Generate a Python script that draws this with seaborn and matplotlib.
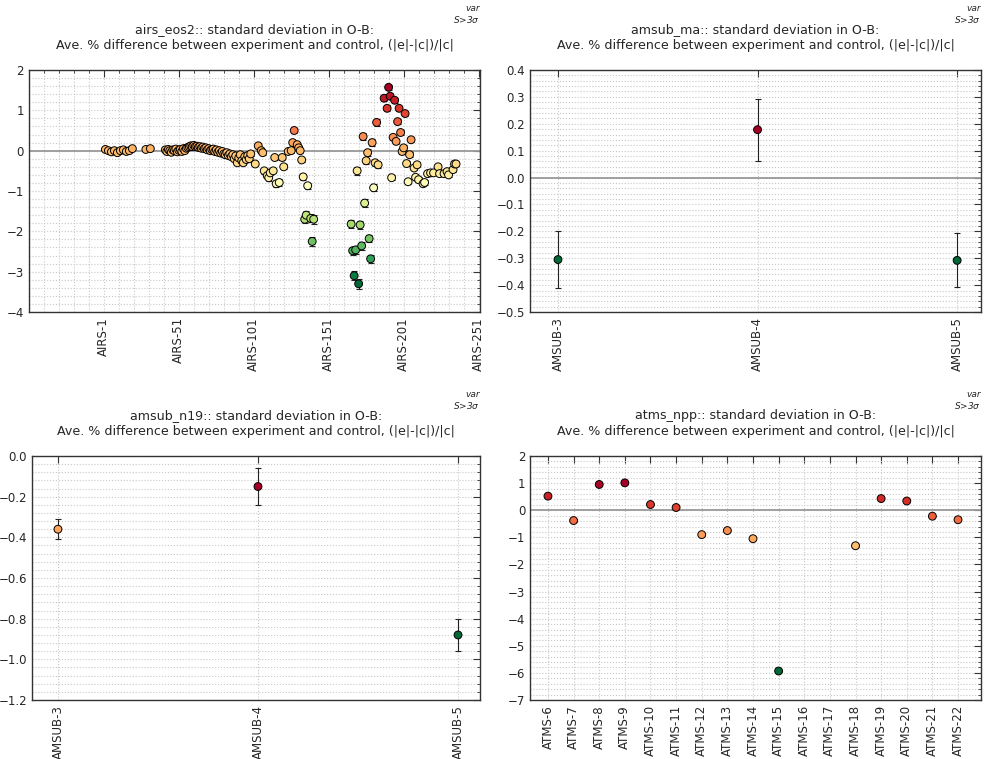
import numpy as np
import pandas as pd
import matplotlib
matplotlib.use('Agg')
import matplotlib.pyplot as plt
import seaborn as sns
from matplotlib.ticker import MultipleLocator

# ---- data ----
# airs_eos2: channel position, value, error bar half-width
airs_chan = [1, 3, 5, 7, 9, 11, 13, 15, 17, 19, 28, 31] + list(range(41, 99)) + [
    101, 103, 105, 106, 107, 109, 110, 111, 113, 114,
    115, 117, 119, 120, 123, 125, 126, 127, 129, 130,
    131, 132, 133, 134, 135, 136, 138, 139, 140,
    165, 166, 167, 168, 169, 170, 171, 172, 173, 174,
    175, 176, 177, 178, 179, 180, 181, 182, 183, 187,
    189, 190, 191, 192, 193, 194, 195, 196, 197, 198,
    199, 200, 201, 202, 203, 204, 205, 207, 208, 209,
    210, 213, 214, 216, 218, 220, 223, 224, 227, 229,
    230, 233, 234, 235]
airs_val = [
    0.03, 0.00, -0.03, 0.00, -0.05, 0.00, 0.02, -0.02, 0.00, 0.05, 0.03, 0.05,
    0.02, -0.02, 0.03, 0.00, -0.04, 0.02, 0.00, 0.04, -0.03, 0.01,
    0.03, -0.02, 0.05, 0.00, 0.06, 0.08, 0.10, 0.12, 0.10, 0.13,
    0.10, 0.11, 0.08, 0.10, 0.06, 0.09, 0.05, 0.07, 0.02, 0.05,
    0.00, 0.03, 0.04, -0.02, 0.02, -0.04, 0.00, -0.06, -0.02, -0.08,
    -0.10, -0.05, -0.12, -0.08, -0.15, -0.10, -0.20, -0.13, -0.30, -0.18,
    -0.10, -0.25, -0.30, -0.15, -0.22, -0.12, -0.20, -0.08,
    -0.33, 0.12, 0.00, -0.05, -0.50, -0.62, -0.67, -0.55, -0.50, -0.17,
    -0.82, -0.79, -0.17, -0.40, -0.02, 0.00, 0.20, 0.50, 0.15, 0.07,
    0.00, -0.23, -0.65, -1.70, -1.60, -0.87, -1.68, -2.25, -1.70,
    -1.82, -2.48, -3.10, -2.46, -0.50, -3.30, -1.84, -2.36, 0.35, -1.30,
    -0.25, -0.05, -2.18, -2.68, 0.20, -0.92, -0.30, 0.70, -0.35, 1.30,
    1.05, 1.57, 1.35, -0.67, 0.33, 1.25, 0.23, 0.72, 1.05, 0.45,
    -0.02, 0.07, 0.92, -0.32, -0.77, -0.10, 0.27, -0.43, -0.66, -0.35,
    -0.72, -0.82, -0.79, -0.57, -0.55, -0.55, -0.40, -0.57, -0.57, -0.52,
    -0.60, -0.47, -0.33, -0.33]
airs_err = [
    0.04, 0.04, 0.04, 0.04, 0.04, 0.04, 0.04, 0.04, 0.04, 0.04, 0.04, 0.04,
    0.04, 0.04, 0.04, 0.04, 0.04, 0.04, 0.04, 0.04, 0.04, 0.04,
    0.04, 0.04, 0.04, 0.04, 0.04, 0.04, 0.04, 0.04, 0.04, 0.04,
    0.04, 0.04, 0.04, 0.04, 0.04, 0.04, 0.04, 0.04, 0.04, 0.04,
    0.04, 0.04, 0.04, 0.04, 0.04, 0.04, 0.04, 0.04, 0.04, 0.04,
    0.05, 0.04, 0.05, 0.04, 0.05, 0.04, 0.05, 0.05, 0.05, 0.05,
    0.04, 0.05, 0.05, 0.05, 0.05, 0.04, 0.05, 0.04,
    0.06, 0.05, 0.05, 0.05, 0.07, 0.07, 0.07, 0.06, 0.06, 0.05,
    0.08, 0.08, 0.05, 0.06, 0.05, 0.05, 0.05, 0.06, 0.05, 0.05,
    0.05, 0.06, 0.07, 0.10, 0.10, 0.08, 0.10, 0.12, 0.11,
    0.10, 0.10, 0.11, 0.10, 0.10, 0.13, 0.10, 0.10, 0.08, 0.10,
    0.08, 0.08, 0.09, 0.10, 0.08, 0.09, 0.08, 0.09, 0.07, 0.07,
    0.07, 0.07, 0.07, 0.06, 0.06, 0.06, 0.06, 0.06, 0.06, 0.06,
    0.06, 0.06, 0.06, 0.06, 0.06, 0.06, 0.06, 0.06, 0.06, 0.05,
    0.06, 0.06, 0.06, 0.05, 0.05, 0.05, 0.05, 0.05, 0.05, 0.05,
    0.05, 0.05, 0.05, 0.05]
airs_ticks = [0, 50, 100, 150, 200, 250]
airs_labels = ['AIRS-1', 'AIRS-51', 'AIRS-101', 'AIRS-151', 'AIRS-201', 'AIRS-251']

amsub_labels = ['AMSUB-3', 'AMSUB-4', 'AMSUB-5']
ma_val = [-0.305, 0.178, -0.308]
ma_err = [0.105, 0.115, 0.100]
n19_val = [-0.36, -0.15, -0.88]
n19_err = [0.05, 0.09, 0.08]

atms_labels = ['ATMS-6', 'ATMS-7', 'ATMS-8', 'ATMS-9', 'ATMS-10', 'ATMS-11',
               'ATMS-12', 'ATMS-13', 'ATMS-14', 'ATMS-15', 'ATMS-16', 'ATMS-17',
               'ATMS-18', 'ATMS-19', 'ATMS-20', 'ATMS-21', 'ATMS-22']
atms_val = [0.52, -0.38, 0.95, 1.01, 0.21, 0.10, -0.90, -0.75, -1.05, -5.93,
            np.nan, np.nan, -1.31, 0.43, 0.34, -0.22, -0.35]
atms_err = [0.05, 0.05, 0.05, 0.05, 0.05, 0.05, 0.05, 0.05, 0.05, 0.05,
            np.nan, np.nan, 0.05, 0.05, 0.05, 0.05, 0.05]

subtitle = 'standard deviation in O-B:\nAve. % difference between experiment and control, (|e|-|c|)/|c|'

sns.set_style('white')
plt.rcParams['font.family'] = ['DejaVu Sans']
plt.rcParams['xtick.direction'] = 'in'
plt.rcParams['ytick.direction'] = 'in'
plt.rcParams['xtick.top'] = True
plt.rcParams['ytick.right'] = True


def draw_panel(ax, x, vals, errs, ticks, labels, name, xlim, ylim, ymaj, ymin, xmin=None):
    df = pd.DataFrame({'x': x, 'val': vals, 'err': errs}).dropna()
    ax.axhline(0, color='#999999', lw=1.3, zorder=1)
    ax.errorbar(df['x'], df['val'], yerr=df['err'], fmt='none', ecolor='#222222',
                elinewidth=0.8, capsize=2, capthick=0.8, zorder=2)
    sns.scatterplot(data=df, x='x', y='val', hue='val', palette='RdYlGn_r',
                    hue_norm=(df['val'].min(), df['val'].max()), s=32,
                    edgecolor='black', linewidth=0.7, legend=False, ax=ax, zorder=3)
    ax.set_xlim(*xlim)
    ax.set_ylim(*ylim)
    ax.set_xticks(ticks)
    ax.set_xticklabels(labels, rotation=90, fontsize=8.5)
    ax.yaxis.set_major_locator(MultipleLocator(ymaj))
    ax.yaxis.set_minor_locator(MultipleLocator(ymin))
    if xmin is not None:
        ax.xaxis.set_minor_locator(MultipleLocator(xmin))
    ax.tick_params(axis='y', labelsize=8.5)
    ax.tick_params(which='major', length=5, width=0.8, color='#333333')
    ax.tick_params(which='minor', length=2.5, width=0.6, color='#333333')
    ax.grid(which='both', linestyle=':', color='#c8c8c8', lw=0.8)
    ax.set_axisbelow(True)
    for sp in ax.spines.values():
        sp.set_color('#333333')
        sp.set_linewidth(1.0)
    ax.set_xlabel('')
    ax.set_ylabel('')
    ax.set_title(name + ':: ' + subtitle, fontsize=9.1, pad=15, linespacing=1.3)
    ax.annotate('var', xy=(1, 1), xycoords='axes fraction', xytext=(0, 44.5),
                textcoords='offset points', ha='right', va='center',
                fontsize=6.5, style='italic')
    ax.annotate(r'S>3$\sigma$', xy=(1, 1), xycoords='axes fraction', xytext=(0, 36.5),
                textcoords='offset points', ha='right', va='center',
                fontsize=6.5, style='italic')


fig = plt.figure(figsize=(9.92, 7.59), dpi=100)
L1, W = 0.0292, 0.4547
L2 = 0.5343
B1, H = 0.5889, 0.3189
B2 = 0.0777
ax1 = fig.add_axes([L1, B1, W, H])
ax2 = fig.add_axes([L2, B1, W, H])
ax3 = fig.add_axes([0.0322, B2, 0.4517, 0.3215])
ax4 = fig.add_axes([L2, B2, W, 0.3215])

draw_panel(ax1, airs_chan, airs_val, airs_err, airs_ticks, airs_labels, 'airs_eos2',
           (-50, 251), (-4, 2), 1, 0.2, xmin=10)
draw_panel(ax2, [0, 1, 2], ma_val, ma_err, [0, 1, 2], amsub_labels, 'amsub_ma',
           (-0.14, 2.12), (-0.5, 0.4), 0.1, 0.02)
draw_panel(ax3, [0, 1, 2], n19_val, n19_err, [0, 1, 2], amsub_labels, 'amsub_n19',
           (-0.13, 2.11), (-1.2, 0.0), 0.2, 0.04)
draw_panel(ax4, list(range(len(atms_labels))), atms_val, atms_err,
           list(range(len(atms_labels))), atms_labels, 'atms_npp',
           (-0.7, 16.9), (-7, 2), 1, 0.2)

fig.savefig('out.png', dpi=100)
